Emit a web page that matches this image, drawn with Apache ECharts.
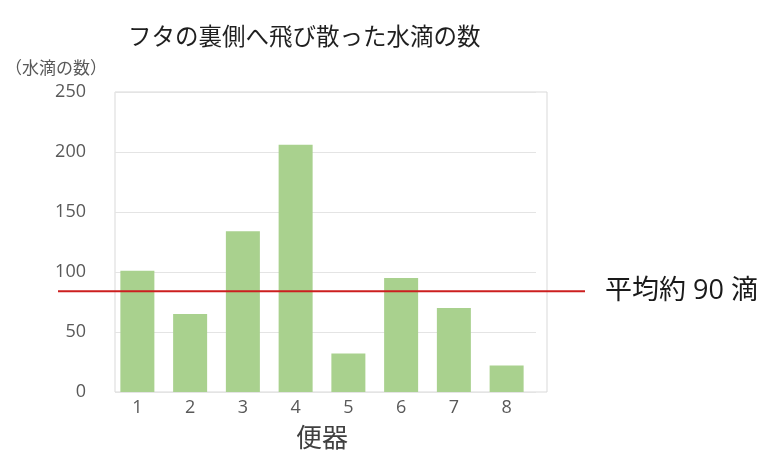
<!DOCTYPE html>
<html><head><meta charset="utf-8">
<script src="https://cdn.jsdelivr.net/npm/echarts@6/dist/echarts.min.js"></script>
<style>html,body{margin:0;padding:0;background:#fff}#c{width:780px;height:461px}</style>
</head><body><div id="c"></div>
<script>
const categories = ['1','2','3','4','5','6','7','8'];
const dropCounts = [101, 65, 134, 206, 32, 95, 70, 22];
const averageLine = 84;
const averageLabel = '平均約 90 滴';
const yTicks = [0, 50, 100, 150, 200, 250];
const titleText = 'フタの裏側へ飛び散った水滴の数';
const yName = '（水滴の数）';
const xName = '便器';

const FONT = '"Noto Sans CJK JP", "Noto Sans", sans-serif';
const LABEL_FONT = '"Open Sans", "Noto Sans CJK JP", sans-serif';
const chart = echarts.init(document.getElementById('c'), null, {renderer: 'canvas'});
const yMin = yTicks[0], yMax = yTicks[yTicks.length - 1], yStep = yTicks[1] - yTicks[0];

chart.setOption({
  animation: false,
  backgroundColor: '#fff',
  title: [
    {text: titleText, left: 123, top: 19, textStyle: {fontFamily: FONT, fontSize: 23.5, fontWeight: 'normal', color: '#1f1f1f'}},
    {text: yName, left: 0, top: 54, textStyle: {fontFamily: FONT, fontSize: 17, fontWeight: 'normal', color: '#595959'}}
  ],
  grid: [
    {left: 111, top: 92, width: 422, height: 300},
    {left: 115, top: 92, width: 432, height: 300, show: true, borderColor: '#d9d9d9', borderWidth: 1, backgroundColor: 'transparent'},
    {left: 115, top: 92, width: 421, height: 300},
    {left: 58, top: 92, width: 527, height: 300}
  ],
  xAxis: [
    {gridIndex: 0, type: 'category', data: categories,
     axisLine: {show: false}, axisTick: {show: false},
     axisLabel: {margin: 7, fontFamily: LABEL_FONT, fontSize: 18, color: '#595959'},
     name: xName, nameLocation: 'middle', nameGap: 32,
     nameTextStyle: {fontFamily: FONT, fontSize: 26, color: '#404040'}},
    {gridIndex: 1, type: 'value', min: 0, max: 1, show: false},
    {gridIndex: 2, type: 'value', min: 0, max: 1, show: false},
    {gridIndex: 3, type: 'value', min: 0, max: 1, show: false}
  ],
  yAxis: [
    {gridIndex: 0, type: 'value', min: yMin, max: yMax, show: false},
    {gridIndex: 1, type: 'value', min: 0, max: 1, show: false},
    {gridIndex: 2, type: 'value', min: yMin, max: yMax, interval: yStep,
     axisLine: {show: false}, axisTick: {show: false},
     axisLabel: {margin: 29, fontFamily: LABEL_FONT, fontSize: 18, color: '#595959'},
     splitLine: {lineStyle: {color: '#e4e4e4', width: 1}}},
    {gridIndex: 3, type: 'value', min: yMin, max: yMax, show: false}
  ],
  series: [
    {type: 'bar', xAxisIndex: 0, yAxisIndex: 0, data: dropCounts, barWidth: 34,
     itemStyle: {color: '#a9d18e'}, z: 3},
    {type: 'line', xAxisIndex: 3, yAxisIndex: 3, data: [[0, averageLine], [1, averageLine]],
     symbol: 'none', lineStyle: {color: '#cc1f1f', width: 2}, z: 5,
     endLabel: {show: true, formatter: averageLabel, distance: 20,
       fontFamily: LABEL_FONT, fontSize: 27, color: '#1a1a1a'}}
  ]
});
</script></body></html>
